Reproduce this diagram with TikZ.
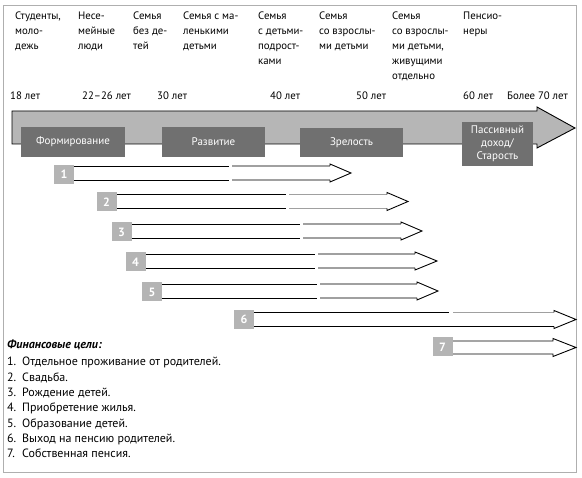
\documentclass[tikz,border=0pt]{standalone}
\usepackage{fontspec}
\setmainfont{PT Sans}
\definecolor{framegray}{RGB}{175,175,175}
\definecolor{bandgray}{RGB}{182,182,182}
\definecolor{stagegray}{RGB}{112,112,112}
\definecolor{numgray}{RGB}{180,180,180}
\definecolor{linegray}{RGB}{160,160,160}
\newcommand\hl[1]{\begin{tabular}[t]{@{}l@{}}#1\end{tabular}}
\tikzset{
  hdr/.style={font=\fontsize{10.8}{15}\selectfont, anchor=base west, inner sep=0pt},
  agelbl/.style={font=\fontsize{10.8}{12}\selectfont, anchor=base west, inner sep=0pt},
  stagebox/.style={fill=stagegray, text=white, font=\fontsize{11}{13}\selectfont, align=center, inner sep=0pt},
  numbox/.style={fill=numgray, text=white, font=\bfseries\fontsize{12}{13}\selectfont, minimum width=20pt, minimum height=19pt, inner sep=0pt},
  blk/.style={draw=black, line width=0.9pt},
  gry/.style={draw=linegray, line width=1.1pt},
}
% #1 start x, #2 centre y, #3 head start x, #4 tip x, #5 split x
\newcommand\goalarrow[5]{%
  \fill[white] (#1,#2-7) -- (#3,#2-7) -- (#3,#2-9) -- (#4,#2) -- (#3,#2+9) -- (#3,#2+7) -- (#1,#2+7) -- cycle;
  \draw[blk] (#1,#2-7) -- (#5,#2-7);
  \draw[gry] (#5+3,#2-7) -- (#3,#2-7);
  \draw[blk] (#1,#2+7) -- (#5,#2+7);
  \draw[gry] (#5+3,#2+7) -- (#3,#2+7);
  \draw[blk, line join=miter] (#3,#2-7) -- (#3,#2-9) -- (#4,#2) -- (#3,#2+9) -- (#3,#2+7);
}
\begin{document}
\begin{tikzpicture}[x=1pt,y=-1pt]
\useasboundingbox (0,0) rectangle (582,478);
\draw[framegray, line width=1pt] (3,6) rectangle (576,473);

% headers
\node[hdr] (h1) at (15,20) {\hl{Студенты,\\моло-\\дежь}};
\node[hdr] (h2) at (78,20) {\hl{Несе-\\мейные\\люди}};
\node[hdr] (h3) at (133,20) {\hl{Семья\\без де-\\тей}};
\node[hdr] (h4) at (183,20) {\hl{Семья с ма-\\ленькими\\детьми}};
\node[hdr] (h5) at (258,20) {\hl{Семья\\с детьми-\\подрост-\\ками}};
\node[hdr] (h6) at (319,20) {\hl{Семья\\со взрослы-\\ми детьми}};
\node[hdr] (h7) at (392,20) {\hl{Семья\\со взрослы-\\ми детьми,\\живущими\\отдельно}};
\node[hdr] (h8) at (463,20) {\hl{Пенсио-\\неры}};

% ages
\node[agelbl] (a1) at (10,100) {18 лет};
\node[agelbl] (a2) at (82,100) {22–26 лет};
\node[agelbl] (a3) at (157,100) {30 лет};
\node[agelbl] (a4) at (270,100) {40 лет};
\node[agelbl] (a5) at (356,100) {50 лет};
\node[agelbl] (a6) at (463,100) {60 лет};
\node[agelbl] (a7) at (507,100) {Более 70 лет};

% big arrow
\draw[fill=bandgray, draw=black, line width=0.9pt, line join=miter]
  (12,111) -- (537,111) -- (537,107) -- (575,128) -- (537,148) -- (537,144) -- (12,144) -- cycle;

% stages
\node[stagebox, minimum width=104pt, minimum height=30pt] (s1) at (73,142) {Формирование};
\node[stagebox, minimum width=103pt, minimum height=30pt] (s2) at (213.5,142) {Развитие};
\node[stagebox, minimum width=103pt, minimum height=29pt] (s3) at (351.5,142.5) {Зрелость};
\node[stagebox, minimum width=71pt, minimum height=44pt] (s4) at (497.5,144) {Пассивный\\доход/\\Старость};

% goal arrows
\goalarrow{74}{173}{330}{351}{229}
\goalarrow{117}{201.5}{387}{408}{286}
\goalarrow{132}{231}{401}{422}{300}
\goalarrow{146}{261}{415}{437}{315}
\goalarrow{162}{291}{417}{438}{317}
% arrow 6: top partly grey, bottom black
\fill[white] (254,312.5) -- (554,312.5) -- (554,310.5) -- (576,319.5) -- (554,328.5) -- (554,326.5) -- (254,326.5) -- cycle;
\draw[blk] (254,312.5) -- (449,312.5);
\draw[gry] (453,312.5) -- (554,312.5);
\draw[blk] (254,326.5) -- (554,326.5);
\draw[blk, line join=miter] (554,312.5) -- (554,310.5) -- (576,319.5) -- (554,328.5) -- (554,326.5);
% arrow 7
\fill[white] (453,341) -- (553,341) -- (553,338.5) -- (576,347.5) -- (553,356.5) -- (553,354) -- (453,354) -- cycle;
\draw[blk, line join=miter] (453,341) -- (553,341) -- (553,338.5) -- (576,347.5) -- (553,356.5) -- (553,354) -- (453,354);

\node[numbox] (n1) at (64,174.5) {1};
\node[numbox] (n2) at (106.5,202) {2};
\node[numbox] (n3) at (121.5,232) {3};
\node[numbox] (n4) at (135.5,262) {4};
\node[numbox] (n5) at (152,292) {5};
\node[numbox] (n6) at (244,319.5) {6};
\node[numbox] (n7) at (442.5,347) {7};

% legend
\node[anchor=base west, inner sep=0pt, font=\bfseries\itshape\fontsize{12}{14}\selectfont] (lt) at (7,349) {Финансовые цели:};
\node[anchor=base west, inner sep=0pt, font=\fontsize{12}{15.3}\selectfont] (li) at (7,366)
 {\begin{tabular}[t]{@{}p{15pt}@{}l@{}}
 1. & Отдельное проживание от родителей.\\
 2. & Свадьба.\\
 3. & Рождение детей.\\
 4. & Приобретение жилья.\\
 5. & Образование детей.\\
 6. & Выход на пенсию родителей.\\
 7. & Собственная пенсия.
 \end{tabular}};
\end{tikzpicture}
\end{document}
